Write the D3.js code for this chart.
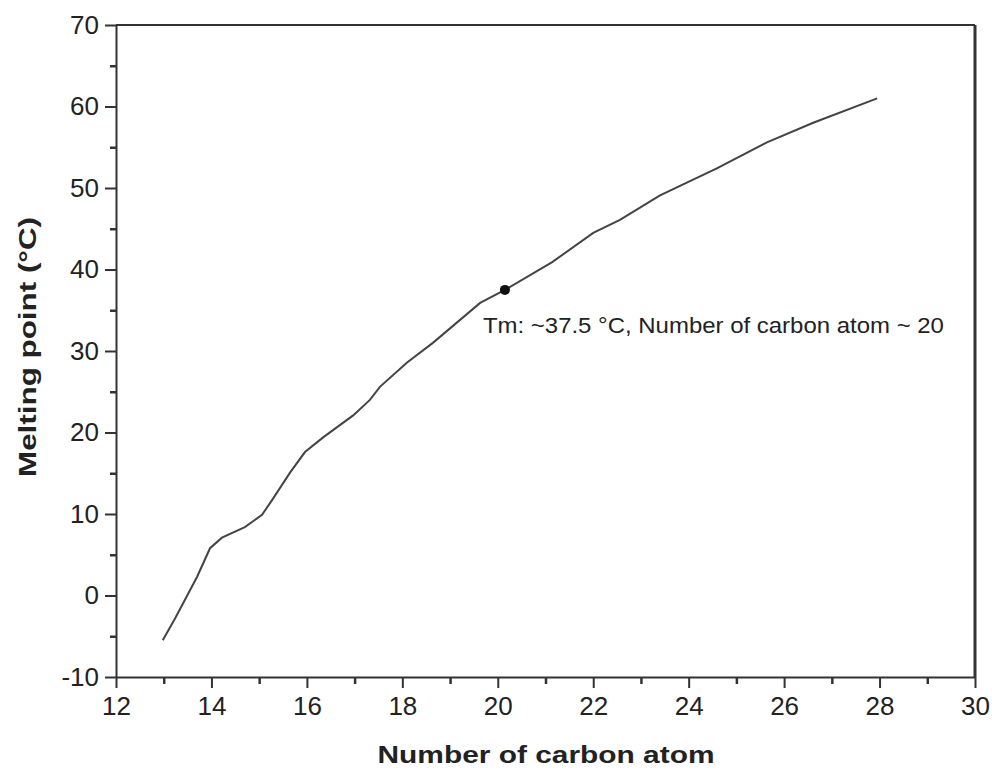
<!DOCTYPE html>
<html>
<head>
<meta charset="utf-8">
<script src="https://cdn.jsdelivr.net/npm/d3@7"></script>
<style>
  html, body { margin: 0; padding: 0; background: #fff; }
  svg { display: block; }
  .axis path, .axis line { stroke: #333; }
</style>
</head>
<body>
<div id="svg-container"></div>
<script>
// data
const carbonNumber = [12.98, 13.24, 13.70, 13.97, 14.22, 14.70, 15.06, 15.27, 15.65, 15.96,
  16.34, 16.97, 17.32, 17.53, 18.10, 18.64, 19.63, 20.15, 21.14, 22.0,
  22.56, 23.40, 24.59, 25.64, 26.61, 27.95];
const meltingPoint = [-5.5, -2.8, 2.3, 5.8, 7.1, 8.4, 9.9, 11.7, 15.1, 17.6,
  19.4, 22.1, 24.0, 25.6, 28.6, 31.0, 35.9, 37.5, 40.9, 44.5,
  46.1, 49.1, 52.4, 55.6, 58.0, 61.0];
const marker = { x: 20.15, y: 37.5 };
const xTicks = [12, 14, 16, 18, 20, 22, 24, 26, 28, 30];
const xMinor = [13, 15, 17, 19, 21, 23, 25, 27, 29];
const yTicks = [-10, 0, 10, 20, 30, 40, 50, 60, 70];
const yMinor = [-5, 5, 15, 25, 35, 45, 55, 65];
const xTitle = "Number of carbon atom";
const yTitle = "Melting point (\u00B0C)";
const note = "Tm: ~37.5 \u00B0C, Number of carbon atom ~ 20";

const width = 992, height = 771;
const margin = { top: 25, right: 17, bottom: 94, left: 116 };
const font = "Liberation Sans, Arial, sans-serif";

const svg = d3.select("#svg-container").append("svg")
  .attr("width", width).attr("height", height);

const x = d3.scaleLinear().domain([12, 30]).range([margin.left, width - margin.right]);
const y = d3.scaleLinear().domain([-10, 70]).range([height - margin.bottom, margin.top]);

// minor ticks first
svg.append("g").attr("class", "axis")
  .attr("transform", `translate(0,${y(-10)})`)
  .call(d3.axisBottom(x).tickValues(xMinor).tickSize(7).tickFormat(""))
  .call(g => g.select(".domain").remove())
  .selectAll("line").attr("stroke-width", 2.5);

svg.append("g").attr("class", "axis")
  .attr("transform", `translate(${x(12)},0)`)
  .call(d3.axisLeft(y).tickValues(yMinor).tickSize(6).tickFormat(""))
  .call(g => g.select(".domain").remove())
  .selectAll("line").attr("stroke-width", 2.5);

// major axes
const xAxis = svg.append("g").attr("class", "axis")
  .attr("transform", `translate(0,${y(-10)})`)
  .call(d3.axisBottom(x).tickValues(xTicks).tickSize(11).tickSizeOuter(0)
    .tickPadding(9).tickFormat(d => String(d)));
xAxis.select(".domain").attr("stroke-width", 2);
xAxis.selectAll(".tick line").attr("stroke-width", 2);

const yAxis = svg.append("g").attr("class", "axis")
  .attr("transform", `translate(${x(12)},0)`)
  .call(d3.axisLeft(y).tickValues(yTicks).tickSize(11).tickSizeOuter(0)
    .tickPadding(6).tickFormat(d => String(d)));
yAxis.select(".domain").attr("stroke-width", 2);
yAxis.selectAll(".tick line").attr("stroke-width", 2);

svg.selectAll(".axis .tick text")
  .style("font-family", font)
  .style("font-size", "26px")
  .style("fill", "#222");

// top and right frame
svg.append("line")
  .attr("x1", x(12)).attr("x2", x(30)).attr("y1", y(70)).attr("y2", y(70))
  .attr("stroke", "#333").attr("stroke-width", 2);
svg.append("line")
  .attr("x1", x(30)).attr("x2", x(30)).attr("y1", y(70)).attr("y2", y(-10))
  .attr("stroke", "#333").attr("stroke-width", 3);

// curve
const pts = carbonNumber.map((c, i) => [c, meltingPoint[i]]);
svg.append("path")
  .datum(pts)
  .attr("fill", "none")
  .attr("stroke", "#444")
  .attr("stroke-width", 2)
  .attr("d", d3.line().x(d => x(d[0])).y(d => y(d[1])));

svg.append("circle")
  .attr("cx", x(marker.x)).attr("cy", y(marker.y)).attr("r", 5)
  .attr("fill", "#111");

svg.append("text")
  .attr("x", x(marker.x) - 22).attr("y", y(marker.y) + 43)
  .attr("textLength", 461).attr("lengthAdjust", "spacingAndGlyphs")
  .style("font-family", font)
  .style("font-size", "22px").style("fill", "#222")
  .text(note);

// titles
svg.append("text")
  .attr("x", 546).attr("y", 763)
  .attr("text-anchor", "middle")
  .attr("textLength", 337).attr("lengthAdjust", "spacingAndGlyphs")
  .style("font-family", font)
  .style("font-size", "23px").style("font-weight", "bold").style("fill", "#222")
  .text(xTitle);

svg.append("text")
  .attr("transform", "translate(36,347) rotate(-90)")
  .attr("text-anchor", "middle")
  .attr("textLength", 260).attr("lengthAdjust", "spacingAndGlyphs")
  .style("font-family", font)
  .style("font-size", "23px").style("font-weight", "bold").style("fill", "#222")
  .text(yTitle);
</script>
</body>
</html>
